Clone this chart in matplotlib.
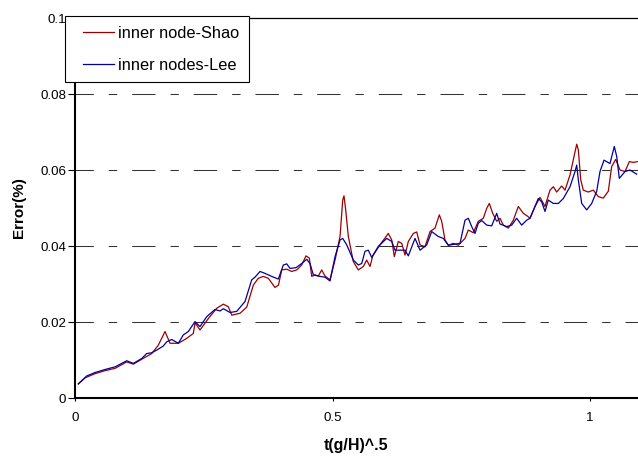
"""Error vs. nondimensional time for inner nodes (Shao vs. Lee)"""

import matplotlib
matplotlib.use('Agg')
import matplotlib.pyplot as plt
from matplotlib.legend_handler import HandlerLine2D
from matplotlib.lines import Line2D

plt.rcParams['font.family'] = ['Liberation Sans', 'DejaVu Sans']

# values
t_shao = [0.0064, 0.0194, 0.0388, 0.0583, 0.0777, 0.1004, 0.1132, 0.1295, 0.1489, 0.1617,
          0.1748, 0.1845, 0.2006, 0.2169, 0.2297, 0.2330, 0.2427, 0.2588, 0.2751, 0.2880,
          0.2977, 0.3043, 0.3204, 0.3334, 0.3462, 0.3559, 0.3656, 0.3753, 0.3883, 0.3950,
          0.4014, 0.4111, 0.4208, 0.4305, 0.4402, 0.4485, 0.4550, 0.4596, 0.4660, 0.4724,
          0.4790, 0.4854, 0.4951, 0.5049, 0.5146, 0.5198, 0.5223, 0.5256, 0.5307, 0.5404,
          0.5501, 0.5598, 0.5664, 0.5728, 0.5781, 0.5922, 0.6083, 0.6150, 0.6200, 0.6278,
          0.6344, 0.6408, 0.6472, 0.6569, 0.6635, 0.6699, 0.6796, 0.6893, 0.6990, 0.7074,
          0.7120, 0.7184, 0.7249, 0.7346, 0.7443, 0.7573, 0.7637, 0.7734, 0.7831, 0.7928,
          0.7994, 0.8045, 0.8111, 0.8188, 0.8252, 0.8317, 0.8414, 0.8511, 0.8608, 0.8705,
          0.8802, 0.8835, 0.8932, 0.9029, 0.9126, 0.9223, 0.9288, 0.9353, 0.9450, 0.9515,
          0.9612, 0.9695, 0.9742, 0.9773, 0.9820, 0.9870, 0.9967, 1.0064, 1.0161, 1.0258,
          1.0355, 1.0421, 1.0499, 1.0583, 1.0680, 1.0763, 1.0841, 1.0918]
err_shao = [0.0037, 0.0053, 0.0064, 0.0072, 0.0078, 0.0095, 0.0089, 0.0102, 0.0117, 0.0139,
            0.0175, 0.0144, 0.0144, 0.0157, 0.0170, 0.0198, 0.0179, 0.0209, 0.0236, 0.0247,
            0.0240, 0.0218, 0.0223, 0.0239, 0.0297, 0.0315, 0.0320, 0.0315, 0.0291, 0.0297,
            0.0337, 0.0339, 0.0333, 0.0337, 0.0350, 0.0374, 0.0368, 0.0320, 0.0324, 0.0321,
            0.0337, 0.0321, 0.0311, 0.0363, 0.0425, 0.0521, 0.0532, 0.0495, 0.0425, 0.0359,
            0.0337, 0.0346, 0.0363, 0.0346, 0.0374, 0.0403, 0.0433, 0.0416, 0.0372, 0.0412,
            0.0407, 0.0376, 0.0412, 0.0433, 0.0437, 0.0403, 0.0398, 0.0438, 0.0447, 0.0482,
            0.0465, 0.0416, 0.0402, 0.0407, 0.0402, 0.0420, 0.0442, 0.0435, 0.0465, 0.0473,
            0.0499, 0.0512, 0.0486, 0.0465, 0.0473, 0.0455, 0.0447, 0.0468, 0.0504, 0.0486,
            0.0477, 0.0473, 0.0504, 0.0528, 0.0504, 0.0547, 0.0556, 0.0542, 0.0558, 0.0547,
            0.0587, 0.0639, 0.0668, 0.0653, 0.0574, 0.0547, 0.0542, 0.0547, 0.0530, 0.0526,
            0.0544, 0.0609, 0.0628, 0.0600, 0.0596, 0.0622, 0.0620, 0.0622]

t_lee = [0.0064, 0.0227, 0.0388, 0.0583, 0.0777, 0.1004, 0.1132, 0.1295, 0.1392, 0.1489,
         0.1586, 0.1715, 0.1781, 0.1878, 0.2006, 0.2103, 0.2200, 0.2330, 0.2427, 0.2557,
         0.2718, 0.2816, 0.2880, 0.3010, 0.3140, 0.3301, 0.3431, 0.3495, 0.3592, 0.3689,
         0.3819, 0.3948, 0.4045, 0.4111, 0.4175, 0.4291, 0.4402, 0.4499, 0.4563, 0.4627,
         0.4757, 0.4854, 0.4951, 0.5049, 0.5146, 0.5198, 0.5276, 0.5404, 0.5501, 0.5567,
         0.5631, 0.5695, 0.5761, 0.5889, 0.6052, 0.6150, 0.6214, 0.6408, 0.6472, 0.6602,
         0.6699, 0.6829, 0.6926, 0.7054, 0.7151, 0.7249, 0.7476, 0.7573, 0.7637, 0.7703,
         0.7767, 0.7831, 0.7897, 0.7994, 0.8091, 0.8188, 0.8252, 0.8382, 0.8479, 0.8576,
         0.8673, 0.8771, 0.8835, 0.8996, 0.9062, 0.9126, 0.9190, 0.9288, 0.9385, 0.9482,
         0.9612, 0.9709, 0.9742, 0.9773, 0.9839, 0.9936, 1.0033, 1.0130, 1.0194, 1.0272,
         1.0388, 1.0472, 1.0518, 1.0569, 1.0680, 1.0777, 1.0906]
err_lee = [0.0037, 0.0058, 0.0067, 0.0075, 0.0082, 0.0098, 0.0091, 0.0104, 0.0117, 0.0119,
           0.0126, 0.0137, 0.0148, 0.0154, 0.0144, 0.0166, 0.0175, 0.0201, 0.0188, 0.0214,
           0.0233, 0.0229, 0.0235, 0.0225, 0.0228, 0.0254, 0.0311, 0.0318, 0.0333, 0.0328,
           0.0320, 0.0313, 0.0350, 0.0353, 0.0341, 0.0343, 0.0354, 0.0365, 0.0354, 0.0324,
           0.0320, 0.0318, 0.0308, 0.0372, 0.0416, 0.0420, 0.0403, 0.0363, 0.0350, 0.0354,
           0.0386, 0.0389, 0.0370, 0.0399, 0.0420, 0.0412, 0.0389, 0.0389, 0.0374, 0.0420,
           0.0389, 0.0403, 0.0438, 0.0425, 0.0420, 0.0402, 0.0407, 0.0468, 0.0473, 0.0451,
           0.0433, 0.0460, 0.0467, 0.0455, 0.0453, 0.0486, 0.0458, 0.0451, 0.0455, 0.0473,
           0.0455, 0.0468, 0.0473, 0.0525, 0.0516, 0.0491, 0.0521, 0.0512, 0.0512, 0.0525,
           0.0556, 0.0596, 0.0613, 0.0574, 0.0512, 0.0495, 0.0512, 0.0544, 0.0596, 0.0626,
           0.0617, 0.0662, 0.0636, 0.0578, 0.0596, 0.0600, 0.0589]

y_ticks = [0, 0.02, 0.04, 0.06, 0.08, 0.1]
y_tick_labels = ['0', '0.02', '0.04', '0.06', '0.08', '0.1']
x_ticks = [0, 0.5, 1]
x_tick_labels = ['0', '0.5', '1']


def main():
    fig = plt.figure(figsize=(6.38, 4.57), dpi=100)
    ax = fig.add_axes([0.1176, 0.1291, 0.8824, 0.8315])

    # dashed gridlines, long-short pattern (in points, divided by lw since dashes scale)
    grid_lw = 0.75
    pattern = [16.8, 10.8, 6.0, 10.8]
    grid_style = (3.6 / grid_lw, [p / grid_lw for p in pattern])
    for yv in y_ticks[1:-1]:
        ax.axhline(yv, color='#333333', linewidth=grid_lw, linestyle=grid_style, zorder=1)

    ax.plot(t_shao, err_shao, color='#9B0000', linewidth=0.9, label='inner node-Shao', zorder=3)
    ax.plot(t_lee, err_lee, color='#0000A0', linewidth=0.9, label='inner nodes-Lee', zorder=3)

    ax.set_xlim(0, 563 / 515)
    ax.set_ylim(0, 0.1)
    ax.set_yticks(y_ticks)
    ax.set_yticklabels(y_tick_labels)
    ax.set_xticks(x_ticks)
    ax.set_xticklabels(x_tick_labels)
    ax.tick_params(axis='y', direction='out', length=5, width=0.8, pad=1.5, labelsize=9.6)
    ax.tick_params(axis='x', direction='out', length=2.5, width=0.8, pad=7.5, labelsize=9.6)

    ax.spines['right'].set_visible(False)
    ax.spines['left'].set_linewidth(1.5)
    ax.spines['bottom'].set_linewidth(1.5)
    ax.spines['top'].set_linewidth(0.9)

    ax.set_xlabel('t(g/H)^.5', fontsize=11.5, fontweight='bold', labelpad=10)
    ax.set_ylabel('Error(%)', fontsize=11, fontweight='bold', labelpad=10)

    # xpad leaves blank space left of the short legend line
    leg = ax.legend(loc='upper left', bbox_to_anchor=(65 / 638, 1 - 16 / 457),
                    bbox_transform=fig.transFigure, fontsize=11.8, frameon=True,
                    fancybox=False, edgecolor='black', framealpha=1,
                    handlelength=2.4, handletextpad=0.25, labelspacing=1.05,
                    borderpad=0.58, borderaxespad=0,
                    handler_map={Line2D: HandlerLine2D(xpad=0.52)})
    leg.get_frame().set_linewidth(0.8)
    leg.set_zorder(5)

    fig.savefig('out.png', dpi=100)


if __name__ == '__main__':
    main()
